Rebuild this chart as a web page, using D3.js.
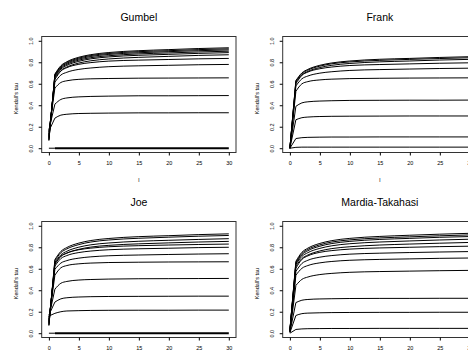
<!DOCTYPE html>
<html>
<head>
<meta charset="utf-8">
<script src="https://cdn.jsdelivr.net/npm/d3@7"></script>
<style>
  body { margin: 0; background: #fff; }
  text { font-family: "Liberation Sans", Arial, sans-serif; fill: #000; }
</style>
</head>
<body>
<script>
// l values where each tau curve was read
const lValues = [0, 1, 2, 3, 5, 7, 10, 15, 20, 25, 30];

const xTicks = [0, 5, 10, 15, 20, 25, 30];
const yTicks = [0, 0.2, 0.4, 0.6, 0.8, 1.0];

const panelTitles = ["Gumbel", "Frank", "Joe", "Mardia-Takahasi"];

const gumbelTau = [
  [0.07, 0.69, 0.768, 0.805, 0.847, 0.871, 0.891, 0.908, 0.918, 0.928, 0.935],
  [0.075, 0.685, 0.762, 0.798, 0.839, 0.863, 0.882, 0.899, 0.908, 0.918, 0.925],
  [0.08, 0.68, 0.755, 0.79, 0.83, 0.854, 0.873, 0.889, 0.899, 0.908, 0.915],
  [0.09, 0.672, 0.746, 0.781, 0.82, 0.843, 0.861, 0.878, 0.887, 0.896, 0.903],
  [0.1, 0.665, 0.737, 0.771, 0.809, 0.832, 0.85, 0.865, 0.874, 0.883, 0.89],
  [0.11, 0.655, 0.724, 0.756, 0.793, 0.814, 0.831, 0.846, 0.855, 0.864, 0.87],
  [0.12, 0.64, 0.718, 0.75, 0.781, 0.797, 0.811, 0.82, 0.826, 0.832, 0.836],
  [0.13, 0.615, 0.681, 0.707, 0.734, 0.747, 0.759, 0.767, 0.772, 0.777, 0.78],
  [0.15, 0.56, 0.612, 0.628, 0.641, 0.646, 0.649, 0.652, 0.653, 0.654, 0.655],
  [0.17, 0.41, 0.454, 0.468, 0.478, 0.482, 0.485, 0.488, 0.488, 0.489, 0.49],
  [0.16, 0.28, 0.308, 0.316, 0.323, 0.325, 0.327, 0.329, 0.329, 0.33, 0.33],
  [0, 0, 0, 0, 0, 0, 0, 0, 0, 0, 0]
];

const frankTau = [
  [0.0, 0.63, 0.701, 0.734, 0.772, 0.794, 0.812, 0.828, 0.836, 0.845, 0.852],
  [0.0, 0.625, 0.694, 0.727, 0.764, 0.786, 0.803, 0.818, 0.827, 0.835, 0.842],
  [0.0, 0.615, 0.683, 0.715, 0.751, 0.772, 0.789, 0.804, 0.812, 0.821, 0.827],
  [0.0, 0.6, 0.678, 0.709, 0.74, 0.756, 0.77, 0.779, 0.785, 0.791, 0.795],
  [0.0, 0.58, 0.646, 0.672, 0.699, 0.712, 0.724, 0.732, 0.737, 0.742, 0.745],
  [0.0, 0.53, 0.599, 0.62, 0.636, 0.643, 0.648, 0.651, 0.653, 0.654, 0.655],
  [0.0, 0.39, 0.422, 0.432, 0.439, 0.442, 0.445, 0.446, 0.447, 0.447, 0.448],
  [0.0, 0.265, 0.284, 0.29, 0.295, 0.297, 0.298, 0.299, 0.3, 0.3, 0.3],
  [0.0, 0.09, 0.098, 0.101, 0.103, 0.104, 0.104, 0.105, 0.105, 0.105, 0.105],
  [0.0, 0.008, 0.01, 0.01, 0.01, 0.01, 0.01, 0.01, 0.01, 0.01, 0.01]
];

const joeTau = [
  [0.07, 0.685, 0.762, 0.798, 0.839, 0.863, 0.882, 0.899, 0.908, 0.918, 0.925],
  [0.075, 0.675, 0.75, 0.785, 0.825, 0.849, 0.868, 0.884, 0.894, 0.903, 0.91],
  [0.08, 0.66, 0.73, 0.763, 0.801, 0.823, 0.84, 0.856, 0.865, 0.873, 0.88],
  [0.09, 0.65, 0.716, 0.746, 0.781, 0.802, 0.818, 0.832, 0.841, 0.849, 0.855],
  [0.1, 0.64, 0.716, 0.746, 0.777, 0.792, 0.805, 0.815, 0.821, 0.826, 0.83],
  [0.11, 0.625, 0.695, 0.723, 0.751, 0.765, 0.777, 0.786, 0.791, 0.797, 0.8],
  [0.12, 0.595, 0.653, 0.676, 0.699, 0.711, 0.721, 0.728, 0.733, 0.737, 0.74],
  [0.13, 0.54, 0.609, 0.63, 0.646, 0.653, 0.658, 0.661, 0.663, 0.664, 0.665],
  [0.15, 0.41, 0.465, 0.482, 0.495, 0.5, 0.504, 0.507, 0.508, 0.509, 0.51],
  [0.17, 0.29, 0.32, 0.33, 0.337, 0.34, 0.342, 0.343, 0.344, 0.345, 0.345],
  [0.16, 0.185, 0.2, 0.207, 0.21, 0.212, 0.213, 0.214, 0.214, 0.215, 0.215],
  [0, 0, 0, 0, 0, 0, 0, 0, 0, 0, 0]
];

const mardiaTau = [
  [0.03, 0.67, 0.753, 0.792, 0.836, 0.862, 0.883, 0.901, 0.912, 0.922, 0.93],
  [0.03, 0.66, 0.742, 0.78, 0.823, 0.849, 0.869, 0.887, 0.897, 0.907, 0.915],
  [0.025, 0.65, 0.73, 0.768, 0.81, 0.835, 0.855, 0.873, 0.883, 0.893, 0.9],
  [0.025, 0.64, 0.715, 0.75, 0.79, 0.814, 0.833, 0.849, 0.859, 0.868, 0.875],
  [0.02, 0.625, 0.695, 0.728, 0.766, 0.788, 0.805, 0.821, 0.83, 0.838, 0.845],
  [0.02, 0.605, 0.687, 0.72, 0.753, 0.769, 0.783, 0.794, 0.8, 0.806, 0.81],
  [0.015, 0.575, 0.649, 0.679, 0.708, 0.723, 0.736, 0.745, 0.751, 0.756, 0.76],
  [0.015, 0.54, 0.604, 0.63, 0.655, 0.668, 0.679, 0.687, 0.692, 0.697, 0.7],
  [0.01, 0.445, 0.501, 0.523, 0.546, 0.557, 0.567, 0.574, 0.578, 0.582, 0.585],
  [0.01, 0.285, 0.307, 0.314, 0.319, 0.321, 0.323, 0.324, 0.324, 0.325, 0.325],
  [0.005, 0.165, 0.182, 0.187, 0.19, 0.192, 0.193, 0.194, 0.194, 0.195, 0.195],
  [0.0, 0.035, 0.04, 0.042, 0.043, 0.044, 0.044, 0.045, 0.045, 0.045, 0.045]
];

const panelData = [gumbelTau, frankTau, joeTau, mardiaTau];

const width = 468, height = 351;
const svg = d3.select("body").append("svg")
  .attr("width", width)
  .attr("height", height);

// each panel: box in local coords, panels repeat every 241 x 185 px
const offsets = [[0, 0], [241, 0], [0, 185], [241, 185]];
const box = { left: 41.7, right: 236, top: 36.5, bottom: 152.5 };

const x = d3.scaleLinear().domain([-1.2, 31.2]).range([box.left, box.right]);
const y = d3.scaleLinear().domain([-0.04, 1.04]).range([box.bottom, box.top]);

const steep = d3.line().x((d, i) => x(lValues[i])).y(d => y(d));
const smooth = d3.line()
  .x((d, i) => x(lValues[i + 1]))
  .y(d => y(d))
  .curve(d3.curveMonotoneX);

panelData.forEach((curves, p) => {
  const g = svg.append("g")
    .attr("transform", `translate(${offsets[p][0]},${offsets[p][1]})`);

  // curves: straight rise from l=0 to l=1, then smooth
  curves.forEach(c => {
    const flat = c.every(v => v === 0);
    g.append("path")
      .attr("d", steep(c.slice(0, 2)))
      .attr("fill", "none").attr("stroke", "#000").attr("stroke-width", 1);
    g.append("path")
      .attr("d", smooth(c.slice(1)))
      .attr("fill", "none").attr("stroke", "#000")
      .attr("stroke-width", flat ? 2 : 1);
  });

  // box
  g.append("rect")
    .attr("x", box.left).attr("y", box.top)
    .attr("width", box.right - box.left).attr("height", box.bottom - box.top)
    .attr("fill", "none").attr("stroke", "#333").attr("stroke-width", 1);

  // x axis
  const xa = g.append("g")
    .attr("transform", `translate(0,${box.bottom})`)
    .call(d3.axisBottom(x).tickValues(xTicks).tickSize(3).tickPadding(6));
  xa.select(".domain").remove();
  xa.selectAll("text").attr("font-size", 5.5).attr("font-family", "Liberation Sans, Arial, sans-serif");

  // y axis, labels rotated like R
  const ya = g.append("g")
    .attr("transform", `translate(${box.left},0)`)
    .call(d3.axisLeft(y).tickValues(yTicks).tickSize(3).tickFormat(d3.format(".1f")));
  ya.select(".domain").remove();
  ya.selectAll("text")
    .attr("font-size", 5.5)
    .attr("font-family", "Liberation Sans, Arial, sans-serif")
    .attr("x", null).attr("dy", null)
    .attr("text-anchor", "middle")
    .attr("transform", "translate(-11,0) rotate(-90)")
    .attr("y", 2);

  g.append("text")
    .attr("x", (box.left + box.right) / 2).attr("y", 21)
    .attr("text-anchor", "middle")
    .attr("font-size", 10.5)
    .text(panelTitles[p]);

  g.append("text")
    .attr("transform", `translate(18,${(box.top + box.bottom) / 2 + 4}) rotate(-90)`)
    .attr("text-anchor", "middle")
    .attr("font-size", 5.5)
    .text("Kendall's tau");

  g.append("text")
    .attr("x", (box.left + box.right) / 2).attr("y", 182)
    .attr("text-anchor", "middle")
    .attr("font-size", 5.5)
    .text("l");
});
</script>
</body>
</html>
